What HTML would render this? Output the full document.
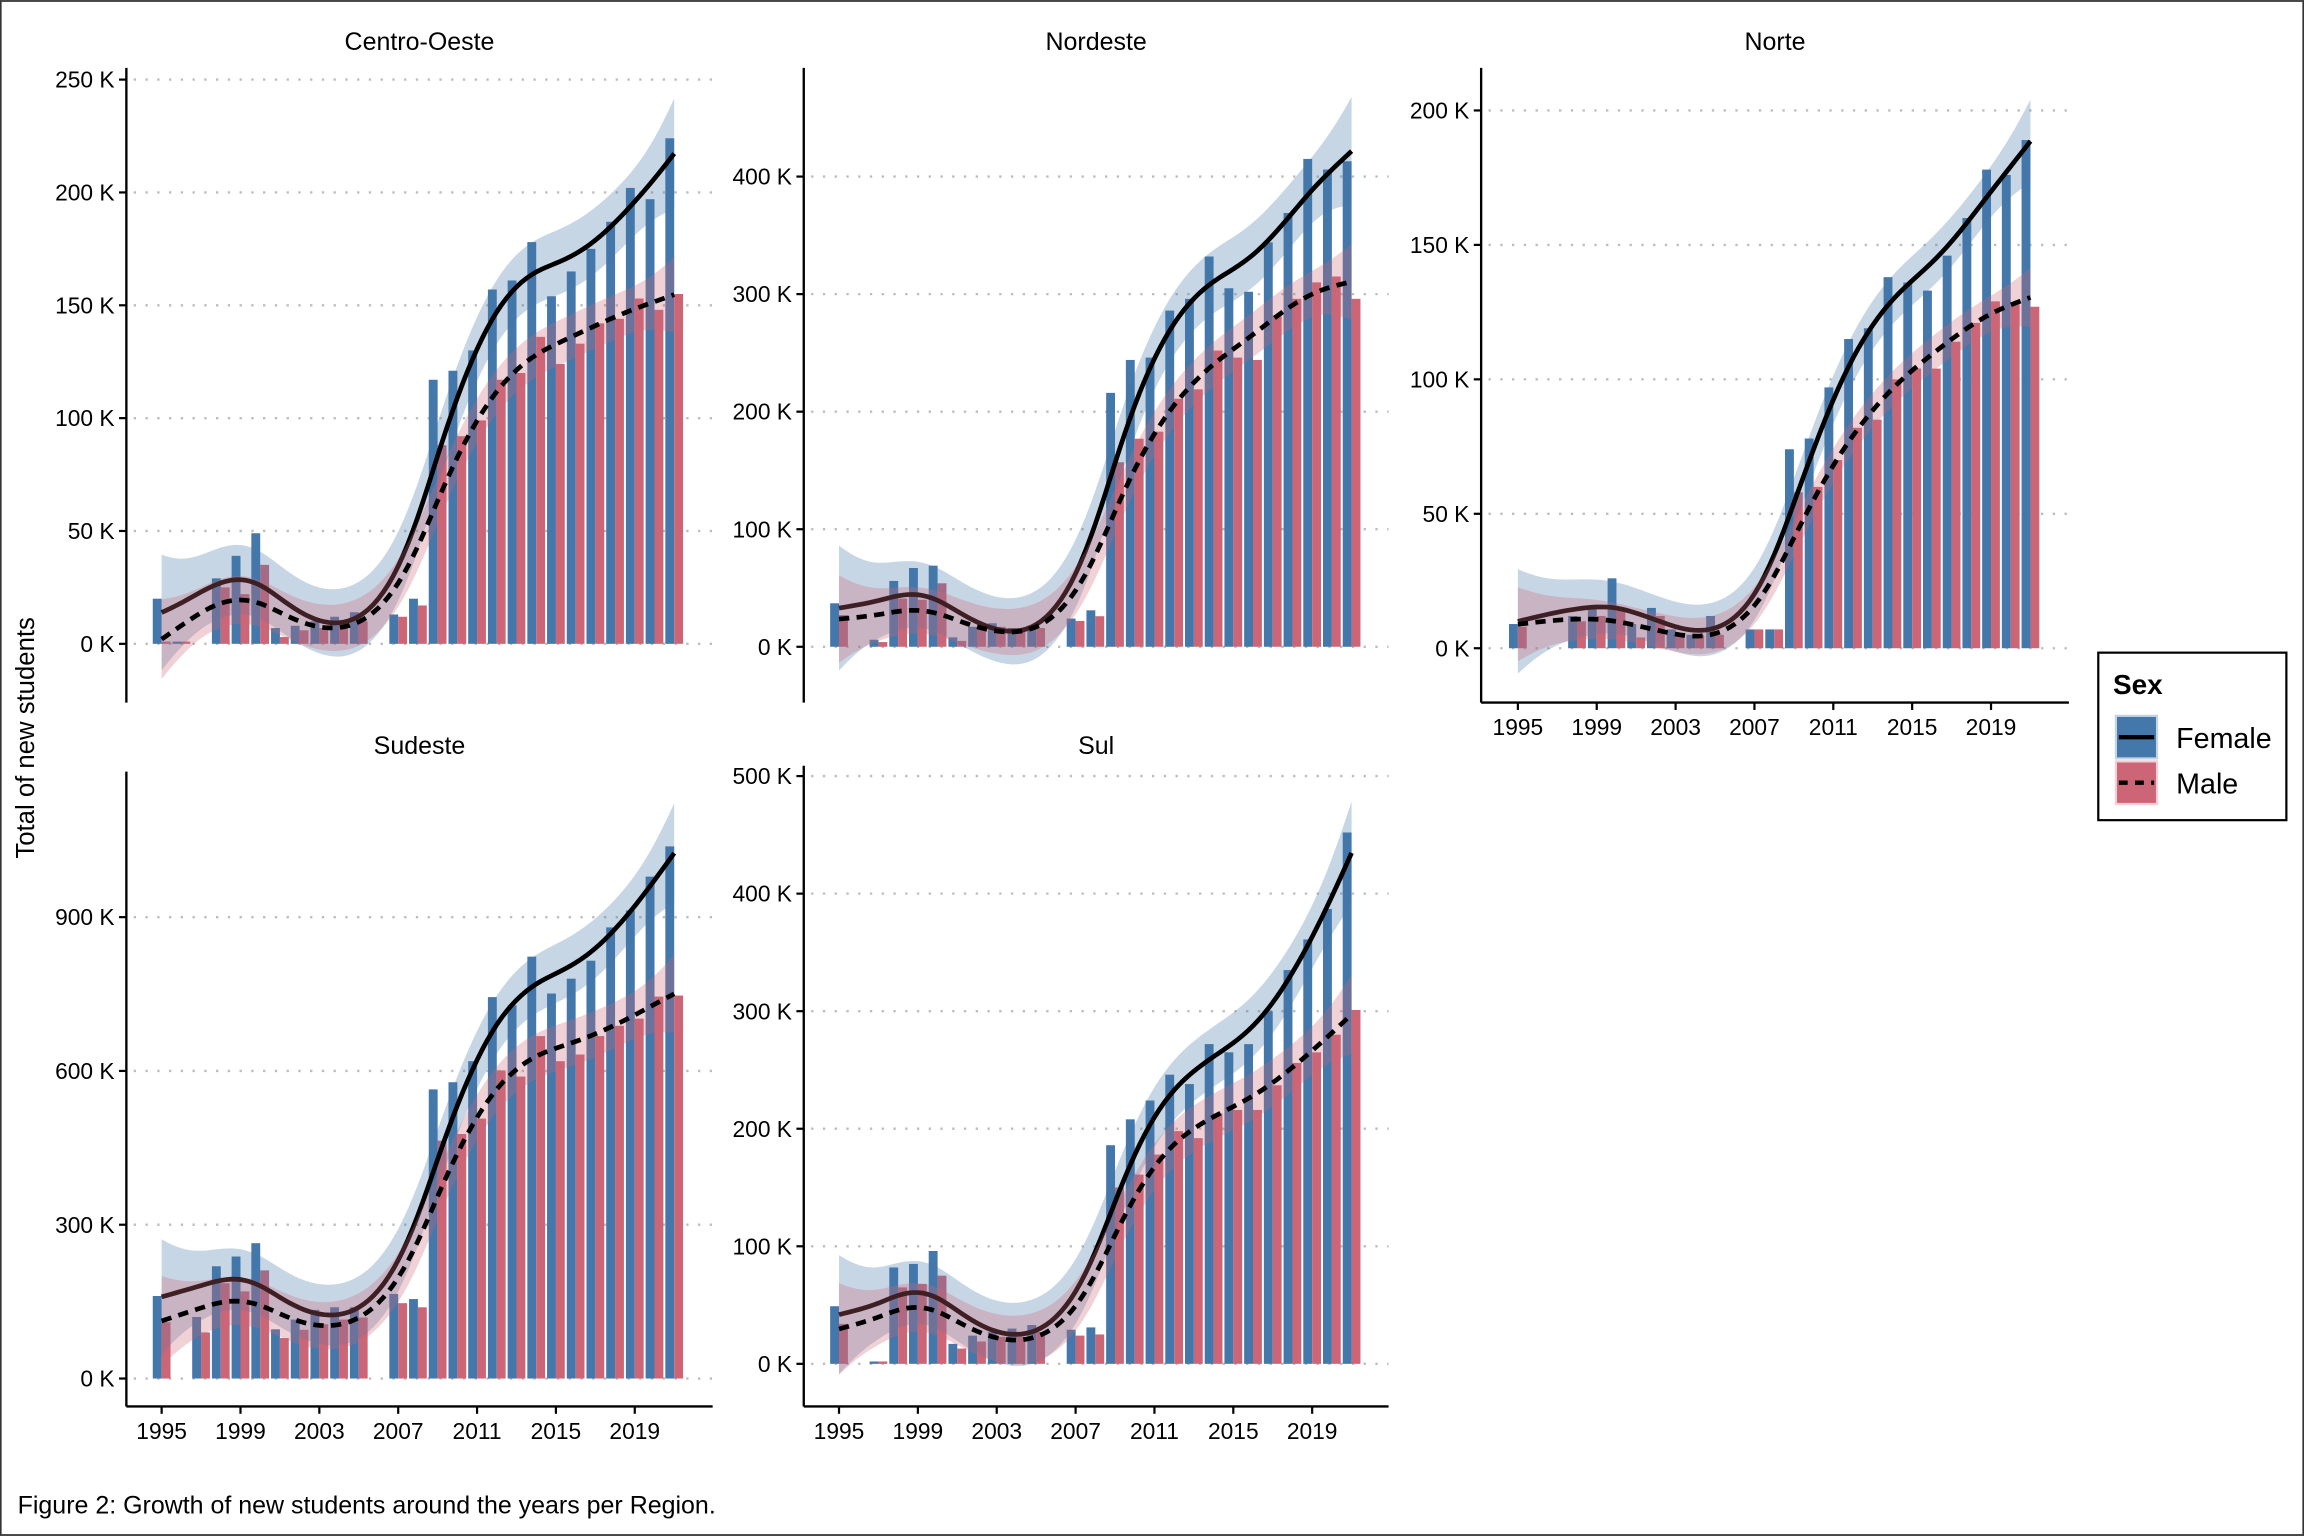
<!DOCTYPE html>
<html><head><meta charset="utf-8"><style>
html,body{margin:0;padding:0;background:#fff;}
svg{display:block;font-family:"Liberation Sans",Arial,sans-serif;}
</style></head><body>
<svg id="chart" width="2304" height="1536" viewBox="0 0 1568 1045" xmlns="http://www.w3.org/2000/svg">
<rect x="0.5" y="0.5" width="1567" height="1044" fill="#fff" stroke="#333" stroke-width="1.2"/>
<text x="23" y="502" font-size="17.5" text-anchor="middle" transform="rotate(-90 23 502)">Total of new students</text>
<text x="12" y="1030" font-size="17">Figure 2: Growth of new students around the years per Region.</text>
<g>
<rect x="1428" y="444" width="128" height="114" fill="#fff" stroke="#000" stroke-width="1.5"/>
<text x="1438" y="472" font-size="19" font-weight="bold">Sex</text>
<rect x="1440" y="487" width="28" height="29" fill="#4477aa" stroke="#c5d3e3" stroke-width="1.5"/>
<line x1="1442" y1="501.5" x2="1466" y2="501.5" stroke="#000" stroke-width="3"/>
<rect x="1440" y="518" width="28" height="29" fill="#cc6677" stroke="#efd0d6" stroke-width="1.5"/>
<line x1="1442" y1="532.5" x2="1466" y2="532.5" stroke="#000" stroke-width="3" stroke-dasharray="6 5"/>
<text x="1481" y="509" font-size="19.5">Female</text>
<text x="1481" y="540" font-size="19.5">Male</text>
</g>
</svg>
<script>
const years=[1995,1996,1997,1998,1999,2000,2001,2002,2003,2004,2005,2006,2007,2008,2009,2010,2011,2012,2013,2014,2015,2016,2017,2018,2019,2020,2021];
const coFemale=[20,1,0,29,39,49,7,8,10,12,14,0,13,20,117,121,130,157,161,178,154,165,175,187,202,197,224];
const coMale=[1,1,0,25,22,35,3,6,7,10,10,0,12,17,88,92,99,117,120,136,124,133,142,144,153,148,155];
const neFemale=[37,0,6,56,67,69,8,17,20,16,18,0,24,31,216,244,246,286,296,332,305,302,344,369,415,406,413];
const neMale=[27,0,4,41,40,54,5,15,17,16,16,0,22,26,157,177,183,211,219,252,246,244,282,296,310,315,296];
const noFemale=[9,0,0,12,15,26,9,15,7,5,12,0,7,7,74,78,97,115,119,138,136,133,146,160,178,176,189];
const noMale=[8,0,0,10,12,15,4,12,5,5,5,0,7,7,58,60,70,82,85,100,104,104,114,121,129,128,127];
const seFemale=[161,0,120,219,238,264,96,115,134,139,139,0,165,155,564,578,619,744,728,823,751,780,815,880,913,979,1038];
const seMale=[110,0,90,186,170,211,79,95,106,115,119,0,147,139,464,477,507,601,589,668,619,632,668,688,702,745,747];
const suFemale=[49,0,2,82,85,96,17,24,27,30,33,0,29,31,186,208,224,246,238,272,265,272,300,335,361,387,452];
const suMale=[34,0,2,65,68,75,13,19,23,23,27,0,24,25,150,161,178,198,192,213,216,216,237,256,265,280,301];
const coTicks=[0,50,100,150,200,250];
const neTicks=[0,100,200,300,400];
const noTicks=[0,50,100,150,200];
const seTicks=[0,300,600,900];
const suTicks=[0,100,200,300,400,500];
const yearTicks=[1995,1999,2003,2007,2011,2015,2019];

const NS="http://www.w3.org/2000/svg";
const svg=document.getElementById('chart');
function mk(tag,attrs,parent){const e=document.createElementNS(NS,tag);for(const k in attrs)e.setAttribute(k,attrs[k]);(parent||svg).appendChild(e);return e;}

function invert(M){
  const n=M.length;const A=M.map((r,i)=>{const z=new Array(2*n).fill(0);for(let j=0;j<n;j++)z[j]=r[j];z[n+i]=1;return z;});
  for(let c=0;c<n;c++){
    let p=c;for(let r=c+1;r<n;r++)if(Math.abs(A[r][c])>Math.abs(A[p][c]))p=r;
    const tmp=A[c];A[c]=A[p];A[p]=tmp;
    const d=A[c][c];for(let j=c;j<2*n;j++)A[c][j]/=d;
    for(let r=0;r<n;r++)if(r!==c){const f=A[r][c];if(f)for(let j=c;j<2*n;j++)A[r][j]-=f*A[c][j];}
  }
  return A.map(r=>r.slice(n));
}
const LAMBDA=6, STEP=0.25;
function smooth(vals){
  const obs=[];
  years.forEach((y,i)=>{if(vals[i]>0)obs.push([y,vals[i]]);});
  const x0=obs[0][0],x1=obs[obs.length-1][0];
  const m=Math.round((x1-x0)/STEP)+1;
  const A=[];for(let i=0;i<m;i++)A.push(new Array(m).fill(0));
  const pen=LAMBDA/Math.pow(STEP,3);
  for(let k=0;k<m-2;k++){const c=[1,-2,1];for(let a=0;a<3;a++)for(let b=0;b<3;b++)A[k+a][k+b]+=pen*c[a]*c[b];}
  const idx=obs.map(o=>Math.round((o[0]-x0)/STEP));
  idx.forEach(i=>{A[i][i]+=1;});
  const Ai=invert(A);
  const f=[];for(let k=0;k<m;k++){let s=0;idx.forEach((i,j)=>{s+=Ai[k][i]*obs[j][1];});f.push(s);}
  let rss=0,tr=0;idx.forEach((i,j)=>{rss+=(obs[j][1]-f[i])**2;tr+=Ai[i][i];});
  const n=obs.length;const sigma=Math.sqrt(rss/Math.max(1,n-tr));
  const out=[];
  for(let k=0;k<m;k++){
    let s2=0;idx.forEach(i=>{s2+=Ai[k][i]*Ai[k][i];});
    const se=sigma*Math.sqrt(s2)*2.07;
    out.push({x:x0+k*STEP,f:f[k],lo:f[k]-se,hi:f[k]+se});
  }
  return out;
}

const panels=[
 {key:'centro-oeste',title:'Centro-Oeste',fem:coFemale,mal:coMale,ticks:coTicks,ax:86,top:46,bottom:478,right:485,y0:438,yTop:54,tTop:250,x0:110,xAxis:false,ty:34},
 {key:'nordeste',title:'Nordeste',fem:neFemale,mal:neMale,ticks:neTicks,ax:547,top:46,bottom:478,right:945,y0:440,yTop:120,tTop:400,x0:571,xAxis:false,ty:34},
 {key:'norte',title:'Norte',fem:noFemale,mal:noMale,ticks:noTicks,ax:1008,top:46,bottom:478,right:1408,y0:441,yTop:75,tTop:200,x0:1033,xAxis:true,ty:34},
 {key:'sudeste',title:'Sudeste',fem:seFemale,mal:seMale,ticks:seTicks,ax:86,top:525,bottom:957,right:485,y0:938,yTop:624,tTop:900,x0:110,xAxis:true,ty:513},
 {key:'sul',title:'Sul',fem:suFemale,mal:suMale,ticks:suTicks,ax:547,top:521,bottom:957,right:945,y0:928,yTop:528,tTop:500,x0:571,xAxis:true,ty:513}
];
const pxYr=322/24;

panels.forEach(p=>{
  const g=mk('g',{});
  
  
  const ys=v=>p.y0-v*(p.y0-p.yTop)/p.tTop;
  const xs=y=>p.x0+(y-1995)*pxYr;
  const t=mk('text',{x:(p.ax+p.right)/2,y:p.ty,'font-size':17,'text-anchor':'middle'},g);
  t.textContent=p.title;
  
  
  p.ticks.forEach(v=>{
    const gl=mk('line',{x1:p.ax+5,x2:p.right,y1:ys(v),y2:ys(v),stroke:'#bdbdbd','stroke-width':1.6,'stroke-dasharray':'1.6 6.4'},g);
    
    
    const tk=mk('line',{x1:p.ax-5,x2:p.ax,y1:ys(v),y2:ys(v),stroke:'#000','stroke-width':1.5},g);
    
    
    const tl=mk('text',{x:p.ax-8,y:ys(v)+5.5,'font-size':15.5,'text-anchor':'end'},g);
    tl.textContent=v+' K';
    
    
  });
  const bw=pxYr*0.45;
  years.forEach((yr,i)=>{
    if(p.fem[i]>0){
      const b=mk('rect',{x:xs(yr)-bw,y:ys(p.fem[i]),width:bw,height:ys(0)-ys(p.fem[i]),fill:'#4477aa'},g);
      
      
    }
    if(p.mal[i]>0){
      const b=mk('rect',{x:xs(yr),y:ys(p.mal[i]),width:bw,height:ys(0)-ys(p.mal[i]),fill:'#cc6677'},g);
      
      
    }
  });
  [['female',p.fem,'#4477aa','none'],['male',p.mal,'#cc6677','7 5']].forEach(s=>{
    const sm=smooth(s[1]);
    let d='M'+sm.map(o=>xs(o.x).toFixed(2)+','+ys(o.hi).toFixed(2)).join('L');
    d+='L'+sm.slice().reverse().map(o=>xs(o.x).toFixed(2)+','+ys(o.lo).toFixed(2)).join('L')+'Z';
    const band=mk('path',{d:d,fill:s[2],'fill-opacity':0.3,stroke:'none'},g);
    
    
    const ln=mk('path',{d:'M'+sm.map(o=>xs(o.x).toFixed(2)+','+ys(o.f).toFixed(2)).join('L'),fill:'none',stroke:'#000','stroke-width':3.2,'stroke-dasharray':s[3]},g);
    
    
  });
  const ya=mk('line',{x1:p.ax,x2:p.ax,y1:p.top,y2:p.bottom,stroke:'#000','stroke-width':1.6},g);
  
  
  if(p.xAxis){
    const xa=mk('line',{x1:p.ax,x2:p.right,y1:p.bottom,y2:p.bottom,stroke:'#000','stroke-width':1.6},g);
    
    
    yearTicks.forEach(yr=>{
      const tk=mk('line',{x1:xs(yr),x2:xs(yr),y1:p.bottom,y2:p.bottom+5,stroke:'#000','stroke-width':1.5},g);
      
      
      const tl=mk('text',{x:xs(yr),y:p.bottom+22,'font-size':15.5,'text-anchor':'middle'},g);
      tl.textContent=yr;
      
      
    });
  }
});
</script>
</body></html>
